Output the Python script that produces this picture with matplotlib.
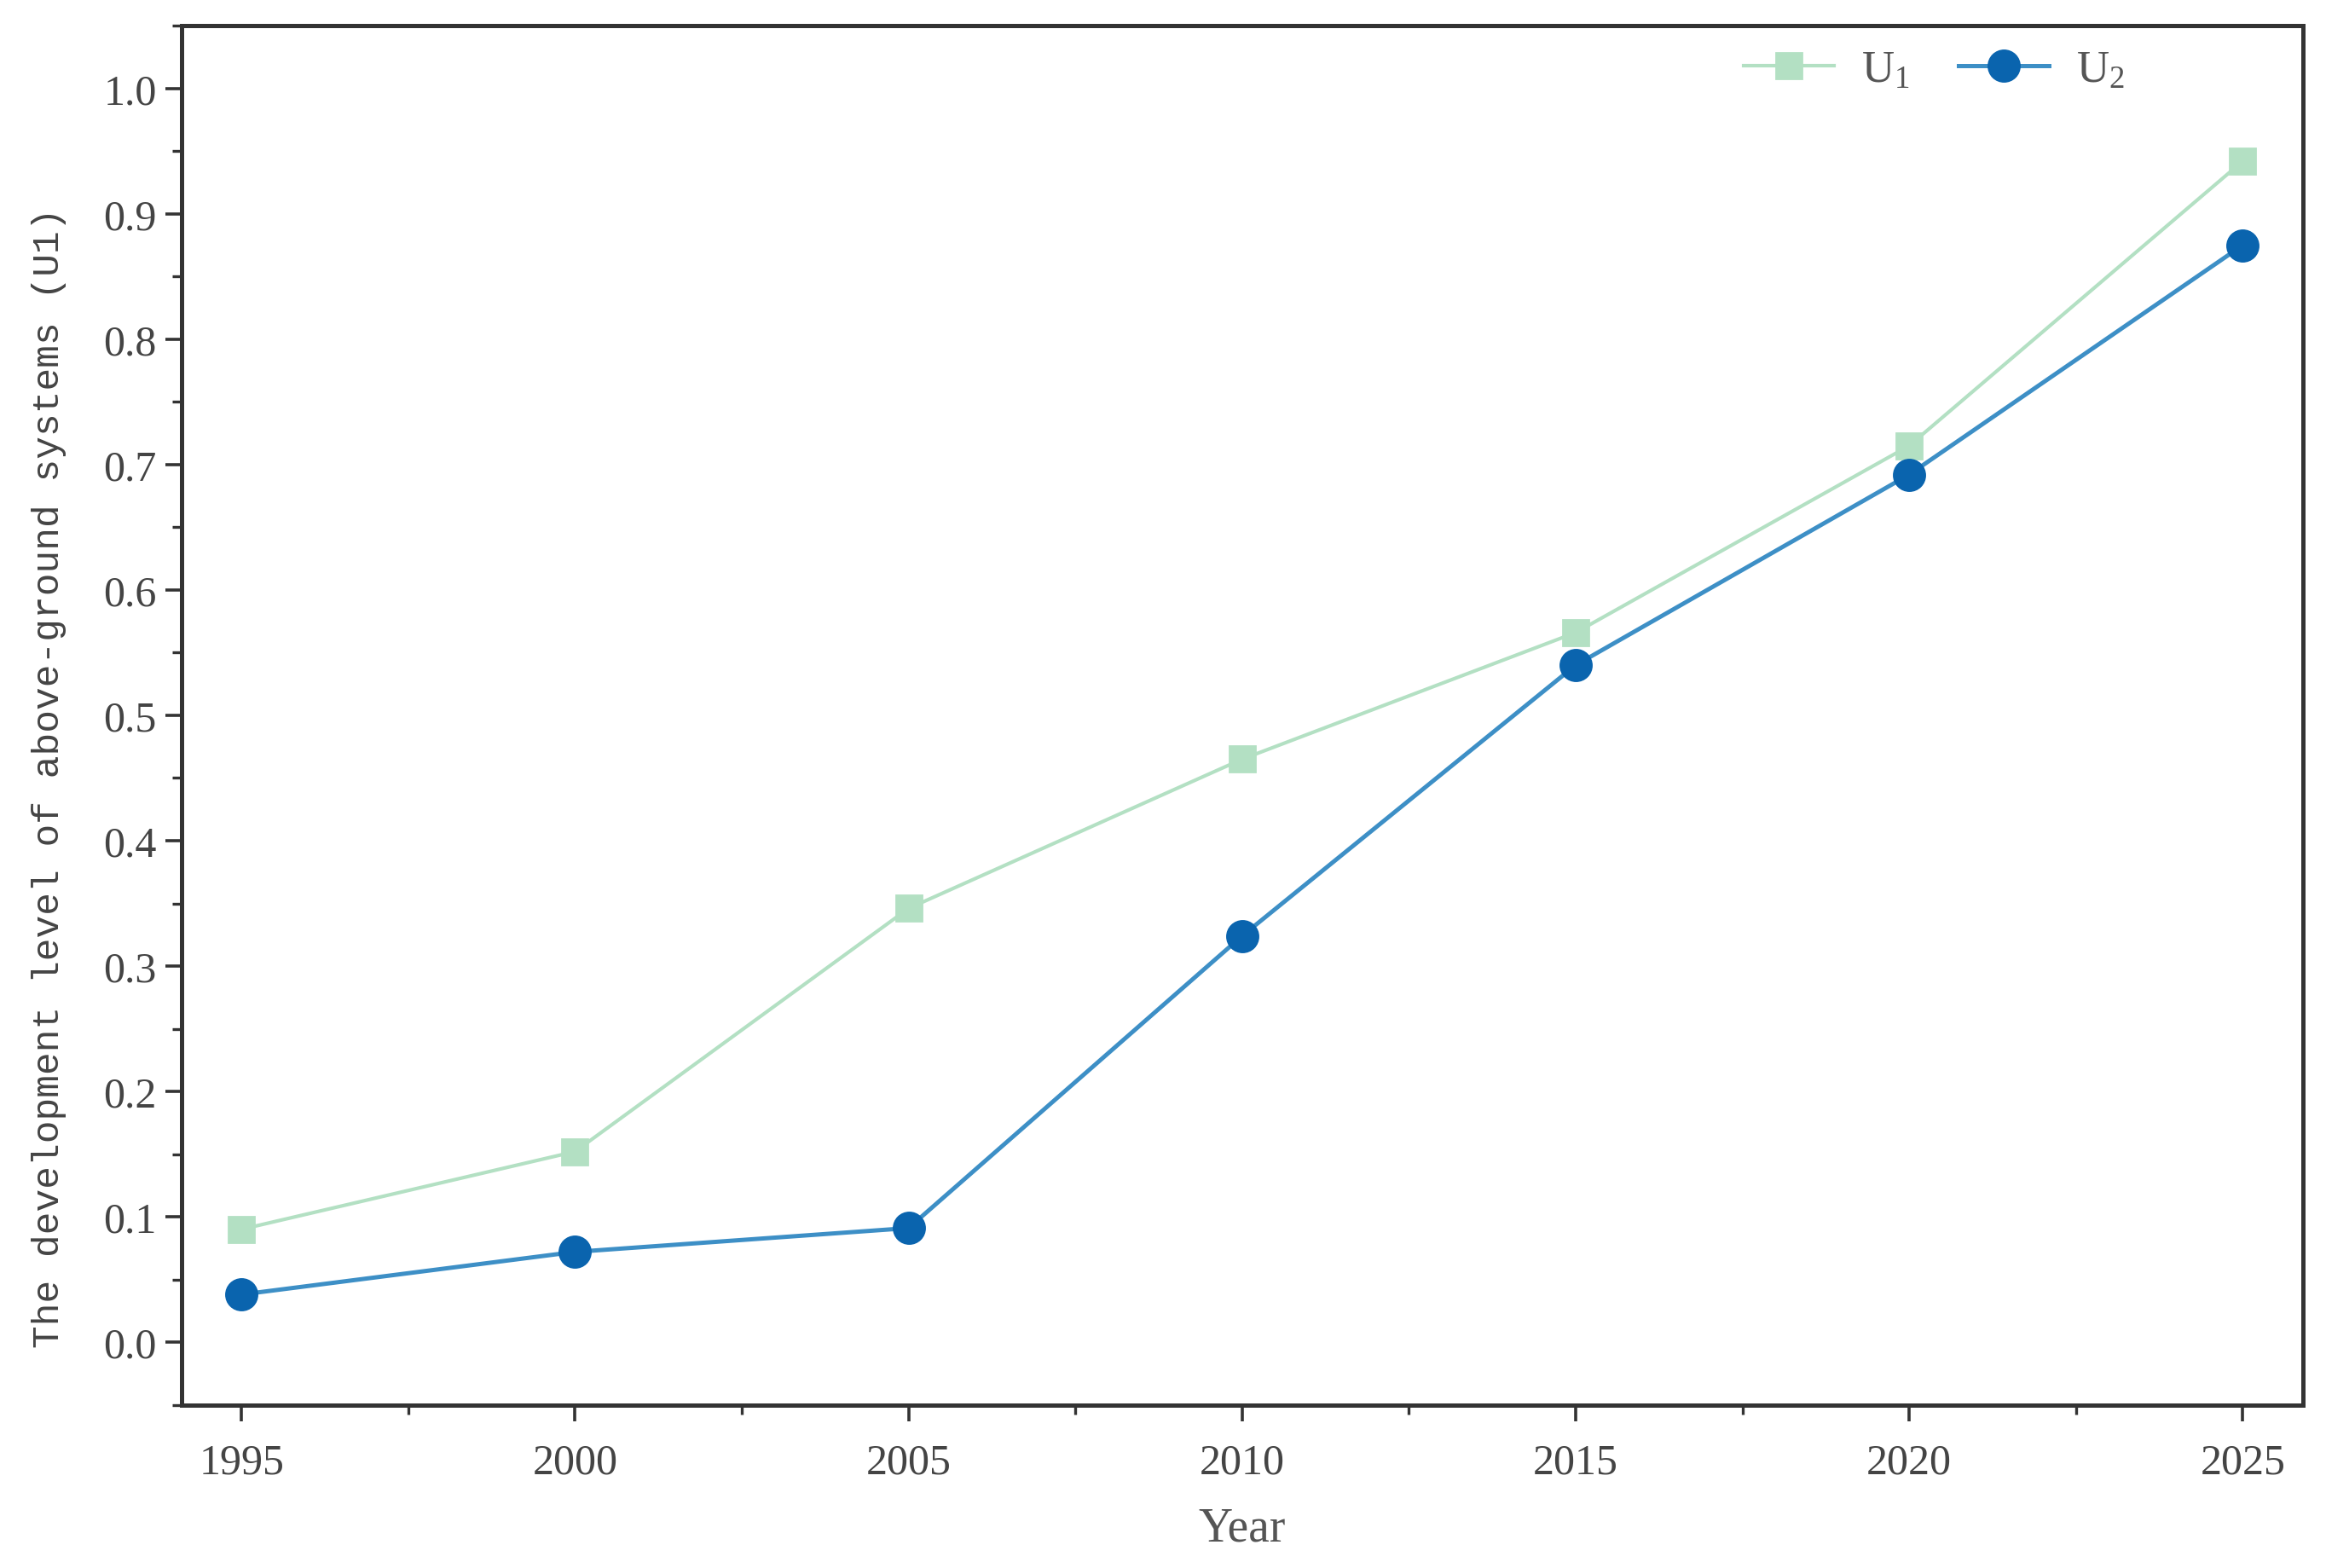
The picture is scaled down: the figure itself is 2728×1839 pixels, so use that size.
import matplotlib.pyplot as plt
from matplotlib.ticker import MultipleLocator

# Data
years = [1995, 2000, 2005, 2010, 2015, 2020, 2025]
u1 = [0.090, 0.152, 0.346, 0.465, 0.566, 0.715, 0.942]
u2 = [0.038, 0.072, 0.091, 0.324, 0.540, 0.692, 0.875]
labels = ["U$_1$", "U$_2$"]

plt.rcParams["mathtext.default"] = "regular"
plt.rcParams["font.family"] = "Liberation Serif"

fig = plt.figure(figsize=(13.64, 9.2), dpi=200)
ax = fig.add_axes([0.078, 0.104, 0.912, 0.879])

ax.plot(years, u1, color="#b3e0c3", marker="s", markersize=11,
        linewidth=1.5, label=labels[0])
ax.plot(years, u2, color="#3d8fc6", marker="o", markersize=13,
        markerfacecolor="#0a64ae", markeredgecolor="#0a64ae",
        linewidth=1.8, label=labels[1])

ax.set_xlim(1994.1, 2025.9)
ax.set_ylim(-0.05, 1.05)
ax.set_xticks(years)
ax.yaxis.set_major_locator(MultipleLocator(0.1))
ax.yaxis.set_minor_locator(MultipleLocator(0.05))
ax.xaxis.set_minor_locator(MultipleLocator(2.5))
ax.tick_params(which="major", length=7, width=1.3, labelsize=18,
               colors="#333333", labelcolor="#444444")
ax.tick_params(axis="x", which="major", pad=9)
ax.tick_params(which="minor", length=4, width=1.2, colors="#333333")
ax.yaxis.set_major_formatter(plt.FuncFormatter(lambda v, p: f"{v:.1f}"))

for s in ax.spines.values():
    s.set_linewidth(1.8)
    s.set_color("#333333")

ax.set_xlabel("Year", fontsize=20, color="#555555", labelpad=10)
ax.set_ylabel("The development level of above-ground systems (U1)",
              fontsize=16, family="Liberation Mono", color="#444444")
ax.yaxis.set_label_coords(-0.054, 0.455)

leg = ax.legend(loc="upper right", bbox_to_anchor=(0.935, 1.012), ncol=2,
                frameon=False, fontsize=19, handlelength=2.0,
                columnspacing=1.1, handletextpad=0.6)
for t in leg.get_texts():
    t.set_color("#555555")

fig.savefig("out.png", dpi=200)
